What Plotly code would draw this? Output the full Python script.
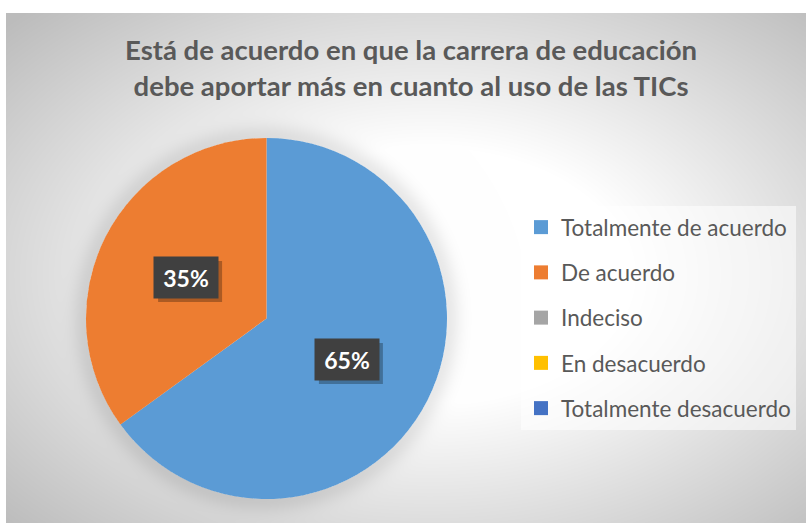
import base64, struct, zlib, math
import numpy as np
import plotly.graph_objects as go

# ---------------- data ----------------
categories = ["Totalmente de acuerdo", "De acuerdo", "Indeciso", "En desacuerdo", "Totalmente desacuerdo"]
values = [65, 35, 0, 0, 0]
colors = ["#5B9BD5", "#ED7D31", "#A5A5A5", "#FFC000", "#4472C4"]
title_lines = ["Está de acuerdo en que la carrera de educación",
               "debe aportar más en cuanto al uso de las TICs"]

W, H = 806, 523
FONT = "Lato, 'Open Sans', sans-serif"

# chart area (px)
ax0, ay0 = 6, 13
aw, ah = W - ax0, H - ay0

# pie geometry (px)
px0, px1 = 86, 447
py0, py1 = 138, 499
pcx, pcy = (px0 + px1) / 2, (py0 + py1) / 2
pr = (px1 - px0) / 2

# ---------------- background gradient image ----------------
def png_gray(a):
    h, w = a.shape
    raw = b"".join(b"\x00" + a[i].tobytes() for i in range(h))
    def chunk(t, d):
        c = t + d
        return struct.pack(">I", len(d)) + c + struct.pack(">I", zlib.crc32(c) & 0xffffffff)
    ihdr = struct.pack(">IIBBBBB", w, h, 8, 0, 0, 0, 0)
    return b"\x89PNG\r\n\x1a\n" + chunk(b"IHDR", ihdr) + chunk(b"IDAT", zlib.compress(raw, 9)) + chunk(b"IEND", b"")

yy, xx = np.mgrid[0:ah, 0:aw].astype(float)
xx += ax0 + 0.5
yy += ay0 + 0.5
gcx, gcy = 430, 275
d = np.sqrt(((xx - gcx) / (aw / 2)) ** 2 + ((yy - gcy) / (ah / 2)) ** 2)
t = np.clip((d - 0.5) / (1.45 - 0.5), 0, 1)
g = 255 - t * (255 - 188)
# soft glow around pie
dist = np.sqrt((xx - pcx) ** 2 + (yy - pcy) ** 2) - pr
glow = np.where(dist > 0, np.exp(-(dist / 14.0) ** 2), 0)
g = g - 22 * glow
img = np.clip(g, 0, 255).astype(np.uint8)
src = "data:image/png;base64," + base64.b64encode(png_gray(img)).decode()

fig = go.Figure()

fig.add_trace(go.Pie(
    labels=categories, values=values, sort=False, direction="clockwise", rotation=0,
    marker=dict(colors=colors, line=dict(width=0)),
    textinfo="none", hoverinfo="label+percent", showlegend=False,
    domain=dict(x=[px0 / W, px1 / W], y=[1 - py1 / H, 1 - py0 / H]),
))

# legend entries
for i, (c, col) in enumerate(zip(categories, colors)):
    fig.add_trace(go.Scatter(
        x=[None], y=[None], mode="markers", name=c, legendgroup=f"g{i}",
        marker=dict(symbol="square", size=14, color=col),
    ))

# percentage labels from data
BW, BH = 64, 41
total = sum(values)
annotations, shapes = [], []
cum = 0
for v in values:
    if v <= 0:
        continue
    mid = (cum + v / 2) / total * 2 * math.pi
    cum += v
    lx = pcx + 0.5 * pr * math.sin(mid)
    ly = pcy - 0.5 * pr * math.cos(mid)
    txt = f"{round(v / total * 100)}%"
    # drop shadow
    sx, sy = lx + 4, ly + 4
    shapes.append(dict(type="rect", xref="paper", yref="paper", layer="above",
                       x0=(sx - BW / 2) / W, x1=(sx + BW / 2) / W,
                       y0=1 - (sy + BH / 2) / H, y1=1 - (sy - BH / 2) / H,
                       fillcolor="rgba(0,0,0,0.28)", line=dict(width=0)))
    annotations.append(dict(text=f"<b>{txt}</b>", font=dict(family=FONT, size=23, color="white"),
                            bgcolor="#404040", xref="paper", yref="paper", x=lx / W, y=1 - ly / H,
                            showarrow=False, width=BW - 8, height=BH - 8, borderpad=4,
                            xanchor="center", yanchor="middle"))

fig.update_layout(
    width=W, height=H,
    margin=dict(l=0, r=0, t=0, b=0),
    paper_bgcolor="white", plot_bgcolor="rgba(0,0,0,0)",
    xaxis=dict(visible=False), yaxis=dict(visible=False),
    images=[dict(source=src, xref="paper", yref="paper", x=ax0 / W, y=1 - ay0 / H,
                 sizex=aw / W, sizey=ah / H, sizing="stretch", layer="below",
                 xanchor="left", yanchor="top")],
    title=dict(text="<b>" + "<br>".join(title_lines) + "</b>", x=0.51, xanchor="center",
               y=1 - 60 / H, yanchor="top", yref="container",
               font=dict(family=FONT, size=27.5, color="#595959")),
    legend=dict(x=521 / W, y=1 - 206 / H, xanchor="left", yanchor="top",
                bgcolor="rgba(255,255,255,0.55)", borderwidth=0,
                font=dict(family=FONT, size=22.5, color="#595959"),
                tracegroupgap=13, traceorder="grouped", itemclick=False,
                entrywidth=245, entrywidthmode="pixels"),
    annotations=annotations,
    shapes=shapes,
    showlegend=True,
)

fig.write_html("out.html", config={"displayModeBar": False},
               post_script="document.body.style.margin='0';document.body.style.padding='0';")
